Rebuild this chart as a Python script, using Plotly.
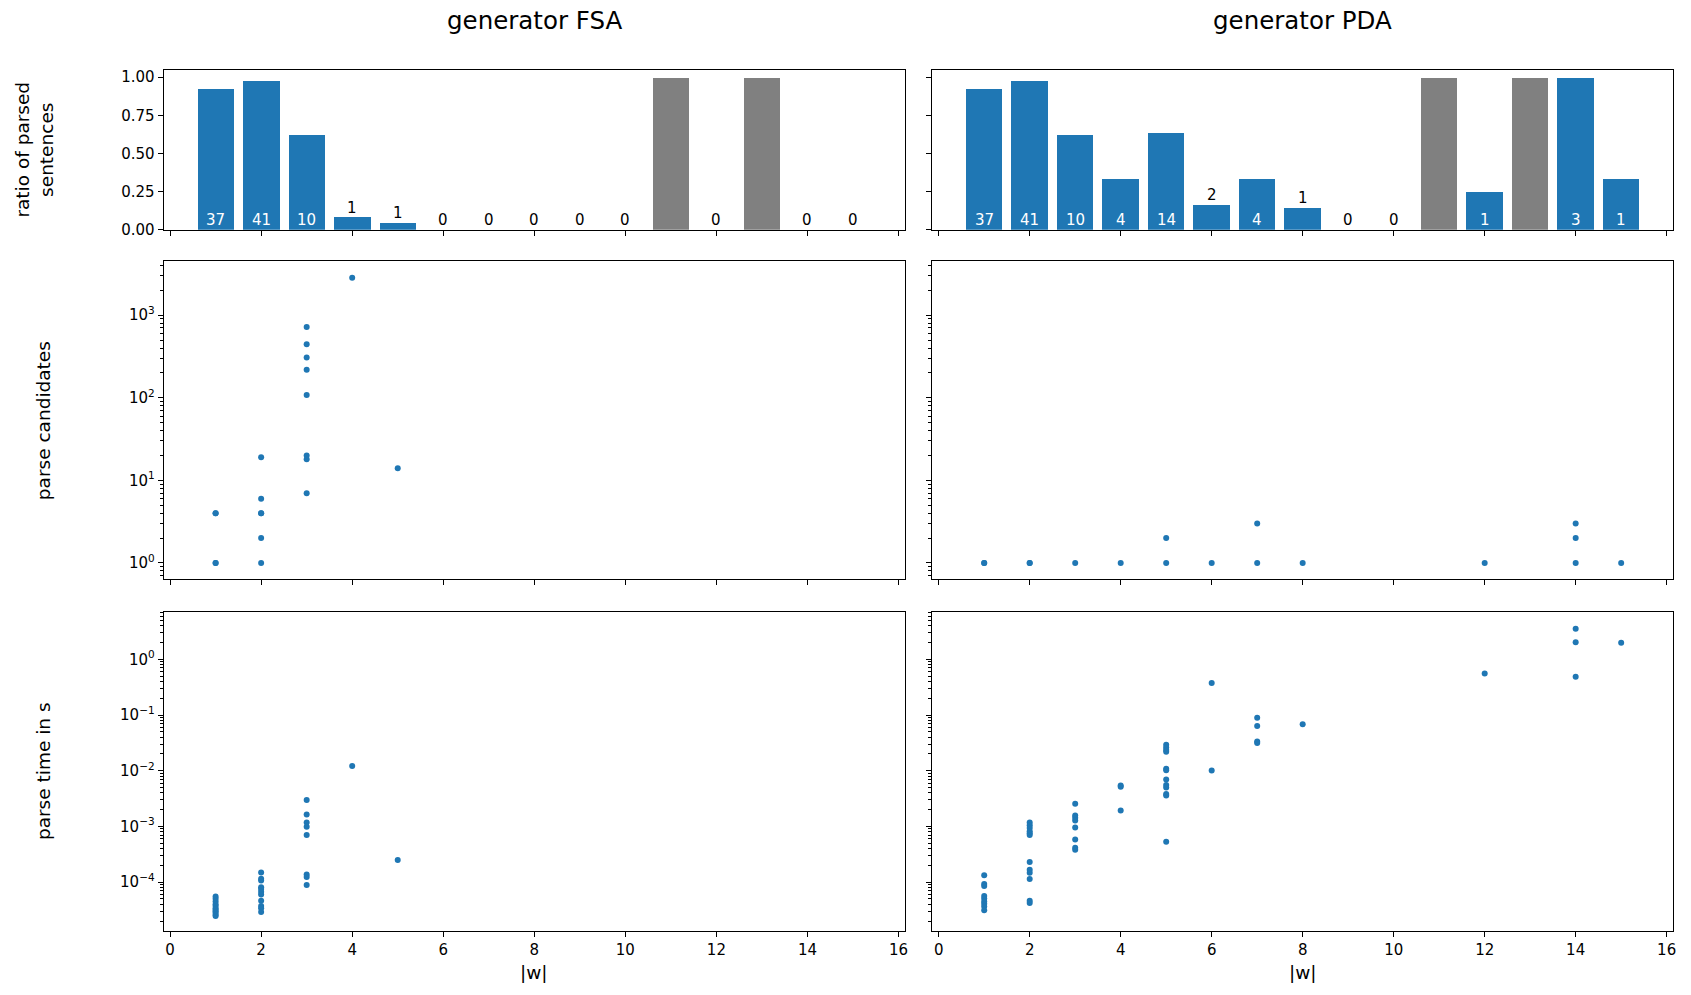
import plotly.graph_objects as go

# ---------------- data ----------------
lengths = list(range(1, 16))

fsa_ratio = [0.925, 0.976, 0.625, 0.083, 0.045, 0, 0, 0, 0, 0, None, 0, None, 0, 0]
fsa_parsed = [37, 41, 10, 1, 1, 0, 0, 0, 0, 0, None, 0, None, 0, 0]
pda_ratio = [0.925, 0.976, 0.625, 0.333, 0.636, 0.167, 0.333, 0.143, 0, 0, None, 0.25, None, 1.0, 0.333]
pda_parsed = [37, 41, 10, 4, 14, 2, 4, 1, 0, 0, None, 1, None, 3, 1]

fsa_cand_len = [1, 1, 1, 1, 2, 2, 2, 2, 2, 2, 3, 3, 3, 3, 3, 3, 3, 3, 4, 5]
fsa_cand = [1, 1, 4, 4, 1, 2, 4, 4, 6, 19, 7, 18, 20, 108, 219, 308, 444, 718, 2831, 14]

pda_cand_len = [1, 1, 2, 2, 3, 4, 5, 5, 6, 7, 7, 8, 12, 14, 14, 14, 15]
pda_cand = [1, 1, 1, 1, 1, 1, 1, 2, 1, 1, 3, 1, 1, 1, 2, 3, 1]

fsa_time_len = [1] * 11 + [2] * 11 + [3] * 8 + [4, 5]
fsa_time = [5.5e-5, 5.0e-5, 4.5e-5, 4.0e-5, 3.7e-5, 3.4e-5, 3.2e-5, 3.0e-5, 2.8e-5, 2.6e-5, 2.45e-5,
            1.49e-4, 1.15e-4, 1.07e-4, 8.1e-5, 7.5e-5, 6.7e-5, 6.0e-5, 4.6e-5, 3.7e-5, 3.4e-5, 2.9e-5,
            2.99e-3, 1.64e-3, 1.17e-3, 9.9e-4, 7.0e-4, 1.37e-4, 1.23e-4, 8.85e-5,
            0.0122, 2.49e-4]

pda_time_len = ([1] * 9 + [2] * 12 + [3] * 8 + [4] * 3 + [5] * 12 + [6] * 2 + [7] * 4
                + [8, 12, 14, 14, 14, 15])
pda_time = [1.33e-4, 9.2e-5, 8.5e-5, 5.6e-5, 5.06e-5, 4.5e-5, 4.07e-5, 3.64e-5, 3.13e-5,
            1.17e-3, 1.05e-3, 9.4e-4, 8.2e-4, 7.5e-4, 7.0e-4, 2.3e-4, 1.66e-4, 1.47e-4, 1.13e-4, 4.6e-5, 4.2e-5,
            2.54e-3, 1.57e-3, 1.43e-3, 1.28e-3, 9.6e-4, 5.8e-4, 4.13e-4, 3.8e-4,
            5.16e-3, 5.4e-3, 1.93e-3,
            0.0292, 0.0262, 0.0235, 0.0219, 0.0108, 0.0102, 6.97e-3, 5.52e-3, 5.0e-3, 3.82e-3, 3.57e-3, 5.28e-4,
            0.374, 0.0101,
            0.0893, 0.0635, 0.0334, 0.0313,
            0.068, 0.556, 3.56, 2.03, 0.485, 1.98]

col_titles = ["generator FSA", "generator PDA"]
row_labels = ["ratio of parsed<br>sentences", "parse candidates", "parse time in s"]
x_label = "|w|"
x_ticks = [0, 2, 4, 6, 8, 10, 12, 14, 16]
ratio_ticks = [0.0, 0.25, 0.5, 0.75, 1.0]
cand_tickvals = [1, 10, 100, 1000]
cand_ticktext = ["10<sup>0</sup>", "10<sup>1</sup>", "10<sup>2</sup>", "10<sup>3</sup>"]
time_tickvals = [1e-4, 1e-3, 1e-2, 1e-1, 1]
time_ticktext = ["10<sup>\u22124</sup>", "10<sup>\u22123</sup>", "10<sup>\u22122</sup>",
                 "10<sup>\u22121</sup>", "10<sup>0</sup>"]

# ---------------- style ----------------
W, H = 1691, 995
BLUE = "#1f77b4"
GREY = "#808080"
FONT = "DejaVu Sans"
TICK_FS = 15
LABEL_FS = 18.5
TITLE_FS = 24.5


def py(px):
    return 1 - px / H


def pxx(px):
    return px / W


col_dom = [[pxx(164), pxx(906.5)], [pxx(934), pxx(1676)]]
row_dom = [[py(231), py(69.3)], [py(584.3), py(262.7)], [py(939.3), py(616.7)]]
x_range = [-0.14, 16.14]

fig = go.Figure()


def ax_name(r, c):
    idx = r * 2 + c + 1
    return ("x" if idx == 1 else f"x{idx}"), ("y" if idx == 1 else f"y{idx}")


annotations = []

# bars
for c, (ratio, parsed) in enumerate([(fsa_ratio, fsa_parsed), (pda_ratio, pda_parsed)]):
    xa, ya = ax_name(0, c)
    heights = [1.0 if v is None else v for v in ratio]
    colors = [GREY if v is None else BLUE for v in ratio]
    fig.add_trace(go.Bar(x=lengths, y=heights, width=0.8, marker=dict(color=colors, line=dict(width=0)),
                         xaxis=xa, yaxis=ya, showlegend=False))
    for xv, v, n in zip(lengths, ratio, parsed):
        if v is None:
            continue
        small = v < 0.2
        annotations.append(dict(x=xv, y=v if small else 0, xref=xa, yref=ya, text=str(n),
                                showarrow=False, yanchor="middle", xanchor="center", yshift=9.5,
                                font=dict(family=FONT, size=TICK_FS, color="black" if small else "white")))

# scatters
scatter_sets = [
    (1, 0, fsa_cand_len, fsa_cand), (1, 1, pda_cand_len, pda_cand),
    (2, 0, fsa_time_len, fsa_time), (2, 1, pda_time_len, pda_time),
]
for r, c, xs, ys in scatter_sets:
    xa, ya = ax_name(r, c)
    fig.add_trace(go.Scatter(x=xs, y=ys, mode="markers", marker=dict(color=BLUE, size=6, line=dict(width=0)),
                             xaxis=xa, yaxis=ya, showlegend=False))

layout = dict(width=W, height=H, margin=dict(l=0, r=0, t=0, b=0), autosize=False,
              paper_bgcolor="white", plot_bgcolor="white", bargap=0,
              font=dict(family=FONT, size=TICK_FS, color="black"))

for r in range(3):
    for c in range(2):
        xa, ya = ax_name(r, c)
        xk = "xaxis" if xa == "x" else "xaxis" + xa[1:]
        yk = "yaxis" if ya == "y" else "yaxis" + ya[1:]
        common = dict(showline=True, mirror=True, linecolor="black", linewidth=1.1,
                      ticks="outside", ticklen=5, tickwidth=1.1, tickcolor="black",
                      showgrid=False, zeroline=False,
                      tickfont=dict(family=FONT, size=TICK_FS, color="black"))
        layout[xk] = dict(common, domain=col_dom[c], range=x_range, anchor=ya,
                          tickmode="array", tickvals=x_ticks, showticklabels=(r == 2))
        ykw = dict(common, domain=row_dom[r], anchor=xa, showticklabels=(c == 0))
        if r == 0:
            ykw.update(range=[0, 1.05], tickmode="array", tickvals=ratio_ticks,
                       ticktext=[f"{v:.2f}" for v in ratio_ticks])
        elif r == 1:
            ykw.update(type="log", range=[-0.199, 3.655], tickmode="array", tickvals=cand_tickvals,
                       ticktext=cand_ticktext,
                       minor=dict(ticks="outside", ticklen=3, tickwidth=1, tickcolor="black", dtick="D1",
                                  showgrid=False))
        else:
            ykw.update(type="log", range=[-4.876, 0.859], tickmode="array", tickvals=time_tickvals,
                       ticktext=time_ticktext,
                       minor=dict(ticks="outside", ticklen=3, tickwidth=1, tickcolor="black", dtick="D1",
                                  showgrid=False))
        layout[yk] = ykw

# column titles
for c in range(2):
    cx = (col_dom[c][0] + col_dom[c][1]) / 2
    annotations.append(dict(x=cx, y=py(20), xref="paper", yref="paper", text=col_titles[c], showarrow=False,
                            xanchor="center", yanchor="middle", font=dict(family=FONT, size=TITLE_FS)))
    annotations.append(dict(x=cx, y=py(981), xref="paper", yref="paper", text=x_label, showarrow=False,
                            xanchor="center", yanchor="middle", font=dict(family=FONT, size=LABEL_FS)))

# row labels
row_label_x = [35, 43, 43]
for r in range(3):
    cy = (row_dom[r][0] + row_dom[r][1]) / 2
    annotations.append(dict(x=pxx(row_label_x[r]), y=cy, xref="paper", yref="paper", text=row_labels[r],
                            showarrow=False, textangle=-90, xanchor="center", yanchor="middle",
                            font=dict(family=FONT, size=LABEL_FS)))

layout["annotations"] = annotations
fig.update_layout(**layout)
fig.write_html("out.html")
